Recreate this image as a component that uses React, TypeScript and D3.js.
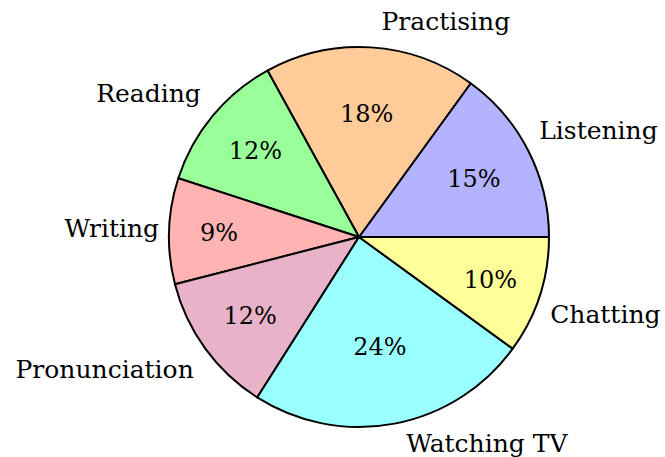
import React from "react";
import * as d3 from "d3";

const categories = ["Listening", "Practising", "Reading", "Writing", "Pronunciation", "Watching TV", "Chatting"];
const values = [15, 18, 12, 9, 12, 24, 10];
const colors = ["#b3b3ff", "#ffcc99", "#99ff99", "#ffb3b3", "#e8b3c8", "#99ffff", "#ffff99"];

const W = 665;
const H = 457;
const cx = 359;
const cy = 237;
const R = 190;
const FONT = "'DejaVu Serif', serif";

export default function App() {
  const data = categories.map((c, i) => ({ c, v: values[i], col: colors[i] }));
  const pie = d3
    .pie<any>()
    .value((d: any) => d.v)
    .sort(null)
    .startAngle(Math.PI / 2)
    .endAngle(Math.PI / 2 - 2 * Math.PI);
  const arcs = pie(data);
  const arc = d3.arc<any>().innerRadius(0).outerRadius(R);

  return (
    <svg
      width={W}
      height={H}
      style={{ position: "absolute", left: 0, top: 0, display: "block", background: "#fff" }}
    >
      <g transform={`translate(${cx},${cy})`}>
        {arcs.map((a, i) => (
          <path key={i} d={arc(a) as string} fill={a.data.col} stroke="#000" strokeWidth={2} strokeLinejoin="round" />
        ))}
        {arcs.map((a, i) => {
          const m = (a.startAngle + a.endAngle) / 2;
          const s = Math.sin(m);
          const c = Math.cos(m);
          // larger slices carry their label closer to the centre
          const rp = R * (0.737 - 0.0098 * (a.data.v - 9));
          return (
            <text
              key={"p" + i}
              x={s * rp}
              y={-c * rp}
              textAnchor="middle"
              dominantBaseline="central"
              fontFamily={FONT}
              fontSize={24}
              fill="#000"
            >
              {a.data.v}%
            </text>
          );
        })}
        {arcs.map((a, i) => {
          const m = (a.startAngle + a.endAngle) / 2;
          const s = Math.sin(m);
          const c = Math.cos(m);
          const rl = R + 10;
          const dy = -16 * Math.max(-1, Math.min(1, c * 4)) - 6 * Math.pow(Math.max(0, -c), 4);
          const dx = 10 * c * c * (s >= 0 ? 1 : -1);
          return (
            <text
              key={"l" + i}
              x={s * rl + dx}
              y={-c * rl + dy}
              textAnchor={s >= 0 ? "start" : "end"}
              dominantBaseline="central"
              fontFamily={FONT}
              fontSize={25}
              fill="#000"
            >
              {a.data.c}
            </text>
          );
        })}
      </g>
    </svg>
  );
}
